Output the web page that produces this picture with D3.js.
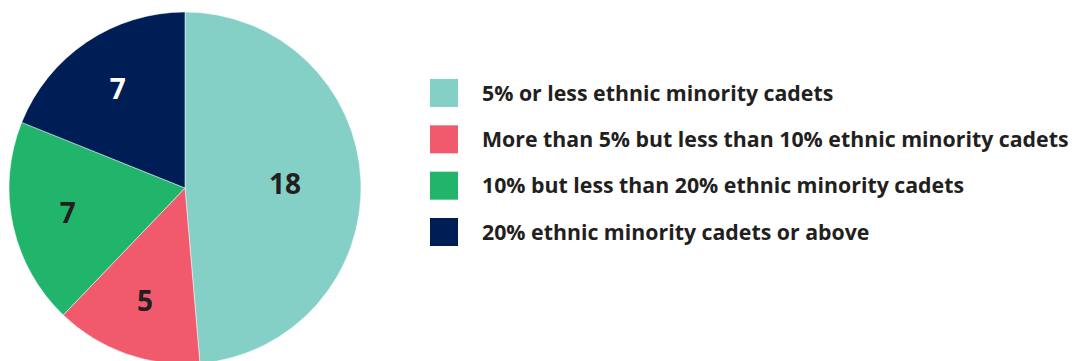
<!DOCTYPE html>
<html><head><meta charset="utf-8">
<script src="https://cdn.jsdelivr.net/npm/d3@7"></script>
<style>body{margin:0;background:#fff;} svg{display:block;}</style>
</head><body>
<svg id="c" width="1077" height="361"></svg>
<script>
const categories = [
  "5% or less ethnic minority cadets",
  "More than 5% but less than 10% ethnic minority cadets",
  "10% but less than 20% ethnic minority cadets",
  "20% ethnic minority cadets or above"
];
const values = [18, 5, 7, 7];
const colors = ["#84CFC6", "#F05A6C", "#21B46B", "#001E56"];
const labelColors = ["#231F20", "#231F20", "#231F20", "#FFFFFF"];

const svg = d3.select("#c");
const cx = 185, cy = 188, r = 176;
const data = categories.map((c, i) => ({cat: c, value: values[i], i}));
const pie = d3.pie().value(d => d.value).sort(null);
const arcs = pie(data);
const arc = d3.arc().innerRadius(0).outerRadius(r);
const g = svg.append("g").attr("transform", `translate(${cx},${cy})`);
g.selectAll("path").data(arcs).join("path")
  .attr("d", arc)
  .attr("fill", d => colors[d.data.i])
  .attr("stroke", "#fff").attr("stroke-width", 0.5);

g.selectAll("text").data(arcs).join("text")
  .attr("transform", d => {
    const lr = (d.endAngle - d.startAngle) > Math.PI * 0.9 ? 100 : 120;
    const la = d3.arc().innerRadius(lr).outerRadius(lr);
    const [x, y] = la.centroid(d);
    return `translate(${x},${y})`;
  })
  .attr("text-anchor", "middle")
  .attr("dy", "0.36em")
  .attr("font-family", "'Open Sans', sans-serif")
  .attr("font-weight", "bold")
  .attr("font-size", 28)
  .attr("fill", d => labelColors[d.data.i])
  .text(d => d.data.value);

const ly = d3.scalePoint().domain(categories).range([93, 232]);
const lg = svg.append("g");
const items = lg.selectAll("g").data(data).join("g")
  .attr("transform", d => `translate(430,${ly(d.cat)})`);
items.append("rect").attr("x", 0).attr("y", -14).attr("width", 28).attr("height", 28)
  .attr("fill", d => colors[d.i]);
items.append("text").attr("x", 52).attr("y", 0).attr("dy", "0.36em")
  .attr("font-family", "'Open Sans', sans-serif")
  .attr("font-weight", "bold").attr("font-size", 21.3)
  .attr("fill", "#231F20")
  .text(d => d.cat);
</script>
</body></html>
